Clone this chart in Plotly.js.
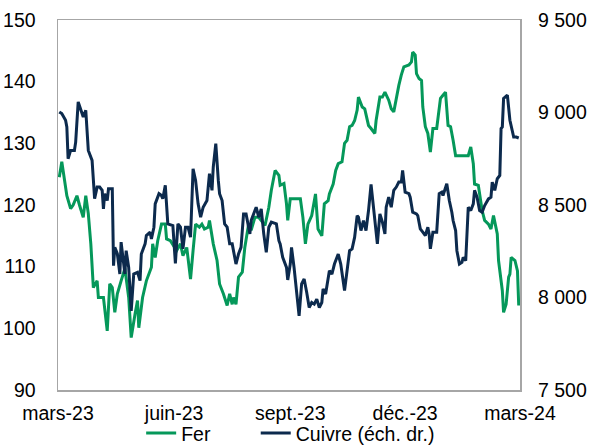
<!DOCTYPE html>
<html>
<head>
<meta charset="utf-8">
<script src="https://cdn.plot.ly/plotly-3.0.1.min.js"></script>
<style>
html,body{margin:0;padding:0;background:#fff;}
#chart{width:591px;height:445px;}
</style>
</head>
<body>
<div id="chart"></div>
<script>
// Fer (left axis)
const ferDates = [
"2023-03-02","2023-03-04","2023-03-08","2023-03-11","2023-03-13","2023-03-16","2023-03-18","2023-03-21","2023-03-23","2023-03-25",
"2023-03-27","2023-03-29","2023-04-01","2023-04-02","2023-04-06","2023-04-09","2023-04-11","2023-04-13","2023-04-15","2023-04-17",
"2023-04-20","2023-04-23","2023-04-26","2023-04-28","2023-05-01","2023-05-03","2023-05-04","2023-05-07","2023-05-10","2023-05-14",
"2023-05-15","2023-05-17","2023-05-19","2023-05-22","2023-05-25","2023-05-26","2023-05-29","2023-05-31","2023-06-03","2023-06-06",
"2023-06-08","2023-06-11","2023-06-14","2023-06-16","2023-06-18","2023-06-21","2023-06-23","2023-06-25","2023-06-28","2023-06-29",
"2023-07-02","2023-07-05","2023-07-07","2023-07-10","2023-07-13","2023-07-15","2023-07-17","2023-07-18","2023-07-20","2023-07-22",
"2023-07-25","2023-07-27","2023-07-30","2023-08-01","2023-08-04","2023-08-07","2023-08-09","2023-08-12","2023-08-15","2023-08-17",
"2023-08-20","2023-08-23","2023-08-24","2023-08-27","2023-08-29","2023-08-30","2023-09-01","2023-09-03","2023-09-06","2023-09-09",
"2023-09-11","2023-09-13","2023-09-15","2023-09-18","2023-09-21","2023-09-23","2023-09-26","2023-09-28","2023-10-01","2023-10-02",
"2023-10-05","2023-10-07","2023-10-09","2023-10-12","2023-10-14","2023-10-16","2023-10-18","2023-10-20","2023-10-22","2023-10-24",
"2023-10-25","2023-10-28","2023-10-30","2023-11-02","2023-11-04","2023-11-07","2023-11-08","2023-11-11","2023-11-13","2023-11-15",
"2023-11-18","2023-11-20","2023-11-22","2023-11-24","2023-11-26","2023-11-28","2023-11-30","2023-12-04","2023-12-06","2023-12-07",
"2023-12-09","2023-12-10","2023-12-12","2023-12-14","2023-12-15","2023-12-17","2023-12-19","2023-12-21","2023-12-23","2023-12-26",
"2023-12-29","2023-12-31","2024-01-02","2024-01-04","2024-01-06","2024-01-08","2024-01-10","2024-01-12","2024-01-16","2024-01-20",
"2024-01-22","2024-01-24","2024-01-25","2024-01-28","2024-01-31","2024-02-02","2024-02-05","2024-02-07","2024-02-09","2024-02-12",
"2024-02-13","2024-02-16","2024-02-17","2024-02-19","2024-02-21","2024-02-22","2024-02-23","2024-02-26","2024-02-28","2024-02-29"
];
const ferValues = [
124.5,127,121.5,119.4,120,121.5,120,118,121.5,118.6,
113.7,106.6,107.7,105,105,99.6,107.2,106.6,102.6,105.6,
107.7,109.7,105,98.5,102.3,104.5,100.1,105,107.7,109.9,
113.7,111.5,114.2,116.9,116.9,114.5,114.2,113.5,112.6,113.7,
111.8,113.1,108,112.6,116.9,116.4,116.9,116.1,116.4,117.5,
113.7,111,107.2,105.6,103.7,105.6,103.9,105,103.9,108.3,
109.1,113.1,116.9,115.9,118,118,117.5,116.7,119.6,122.4,
125.6,124.8,123.2,123.5,120.2,117.5,121,121,121,121,
118,113.7,116.9,118.3,121.8,116.1,115,120.2,120.7,121.8,
123.4,125.6,126.7,127,130,130.5,132.7,132.9,133.7,135.4,
137.5,135.9,135.6,132.9,132.4,131.6,133.7,137.5,137.5,138.3,
137,135.6,135.1,137.5,139.4,141.1,142.4,142.7,143.2,144.8,
144.3,141.3,140.5,140.2,135.9,132.7,131.6,128.6,132.4,132.4,
137.3,137.8,138.3,132.9,132.7,130.5,128,128,128,128,
129.4,126.7,123.4,123.2,119.1,117.5,116.9,116.1,118.3,115.3,
111,106.1,102.6,103.9,108.3,108.8,111.5,111,109.3,103.7
];

// Cuivre (right axis)
const cuivreDates = [
"2023-03-02","2023-03-04","2023-03-07","2023-03-08","2023-03-09","2023-03-11","2023-03-14","2023-03-15","2023-03-17","2023-03-19",
"2023-03-21","2023-03-23","2023-03-25","2023-03-28","2023-03-30","2023-04-01","2023-04-03","2023-04-05","2023-04-06","2023-04-07",
"2023-04-09","2023-04-10","2023-04-13","2023-04-14","2023-04-15","2023-04-17","2023-04-19","2023-04-20","2023-04-23","2023-04-24",
"2023-04-26","2023-04-28","2023-04-30","2023-05-03","2023-05-05","2023-05-06","2023-05-09","2023-05-10","2023-05-13","2023-05-14",
"2023-05-16","2023-05-17","2023-05-20","2023-05-22","2023-05-23","2023-05-25","2023-05-27","2023-05-31","2023-06-02","2023-06-04",
"2023-06-06","2023-06-08","2023-06-10","2023-06-12","2023-06-14","2023-06-16","2023-06-18","2023-06-20","2023-06-22","2023-06-24",
"2023-06-27","2023-06-29","2023-07-01","2023-07-02","2023-07-04","2023-07-06","2023-07-07","2023-07-09","2023-07-11","2023-07-13",
"2023-07-15","2023-07-17","2023-07-20","2023-07-22","2023-07-24","2023-07-26","2023-07-28","2023-07-31","2023-08-01","2023-08-04",
"2023-08-05","2023-08-07","2023-08-09","2023-08-11","2023-08-13","2023-08-15","2023-08-17","2023-08-21","2023-08-23","2023-08-24",
"2023-08-26","2023-08-29","2023-08-30","2023-09-01","2023-09-02","2023-09-04","2023-09-06","2023-09-08","2023-09-10","2023-09-12",
"2023-09-14","2023-09-16","2023-09-18","2023-09-20","2023-09-22","2023-09-24","2023-09-26","2023-09-27","2023-09-29","2023-10-01",
"2023-10-02","2023-10-04","2023-10-06","2023-10-09","2023-10-11","2023-10-14","2023-10-16","2023-10-18","2023-10-20","2023-10-22",
"2023-10-24","2023-10-25","2023-10-27","2023-10-29","2023-10-31","2023-11-02","2023-11-04","2023-11-06","2023-11-08","2023-11-09",
"2023-11-11","2023-11-13","2023-11-15","2023-11-16","2023-11-18","2023-11-20","2023-11-22","2023-11-24","2023-11-26","2023-11-28",
"2023-11-29","2023-12-01","2023-12-04","2023-12-05","2023-12-07","2023-12-10","2023-12-11","2023-12-13","2023-12-15","2023-12-17",
"2023-12-19","2023-12-20","2023-12-21","2023-12-23","2023-12-26","2023-12-28","2023-12-30","2023-12-31","2024-01-03","2024-01-05",
"2024-01-07","2024-01-08","2024-01-10","2024-01-11","2024-01-13","2024-01-15","2024-01-16","2024-01-18","2024-01-20","2024-01-22",
"2024-01-24","2024-01-25","2024-01-27","2024-01-29","2024-01-31","2024-02-02","2024-02-05","2024-02-07","2024-02-08","2024-02-10",
"2024-02-12","2024-02-14","2024-02-15","2024-02-16","2024-02-17","2024-02-20","2024-02-22","2024-02-23","2024-02-25","2024-02-27",
"2024-02-29"
];
const cuivreValues = [
9003,8994,8958,8922,8750,8795,8795,8840,9057,9012,
8976,9012,8795,8741,8534,8597,8597,8579,8479,8561,
8524,8588,8588,8172,8271,8237,8127,8299,8127,8253,
8163,7928,8127,8136,8091,8235,8290,8335,8353,8317,
8380,8506,8561,8551,8534,8606,8398,8389,8185,8398,
8380,8263,8380,8380,8326,8696,8633,8506,8434,8488,
8524,8669,8579,8705,8832,8633,8561,8524,8398,8380,
8290,8290,8181,8235,8271,8452,8452,8344,8416,8470,
8488,8434,8479,8344,8244,8380,8407,8398,8307,8290,
8217,8163,8095,8181,8271,8163,8037,7901,8073,8100,
8028,7946,7973,7964,7991,7946,7973,8046,8019,8100,
8145,8127,8181,8235,8181,8037,8145,8253,8263,8326,
8443,8434,8362,8416,8362,8470,8611,8470,8362,8290,
8452,8407,8344,8488,8542,8488,8579,8597,8624,8624,
8687,8569,8561,8542,8461,8452,8443,8371,8353,8335,
8380,8344,8263,8353,8353,8561,8569,8551,8615,8524,
8461,8416,8362,8253,8181,8190,8217,8199,8488,8470,
8506,8579,8542,8470,8461,8497,8533,8542,8624,8579,
8642,8660,8913,8922,9076,9094,8958,8931,8867,8867,
8862
];

const xTickVals = ["2023-03-01","2023-06-01","2023-09-01","2023-12-01","2024-03-01"];
const xTickText = ["mars-23","juin-23","sept.-23","déc.-23","mars-24"];
const yLeftTicks = [90,100,110,120,130,140,150];
const yRightTicks = [7500,8000,8500,9000,9500];
const yRightText = ["7 500","8 000","8 500","9 000","9 500"];

const FONT = "Liberation Sans, Arial, sans-serif";
const FS = 19.5;
const GREEN = "#05985a";
const NAVY = "#0c2a4d";
const BOX = "#a6a6a6";

const traces = [
  {x: ferDates, y: ferValues, name: "Fer", type: "scatter", mode: "lines",
   line: {color: GREEN, width: 3}, yaxis: "y", legend: "legend"},
  {x: cuivreDates, y: cuivreValues, name: "Cuivre (éch. dr.)", type: "scatter", mode: "lines",
   line: {color: NAVY, width: 3}, yaxis: "y2", legend: "legend2"}
];

const legendBase = {orientation: "h", xanchor: "left", yref: "container", y: 0.026, yanchor: "middle",
  font: {family: FONT, size: FS, color: "#000"}, bgcolor: "rgba(0,0,0,0)", borderwidth: 0};

const layout = {
  width: 591, height: 445,
  margin: {l: 58, r: 71, t: 20, b: 55},
  paper_bgcolor: "#fff", plot_bgcolor: "#fff",
  font: {family: FONT, size: FS, color: "#000"},
  showlegend: true,
  legend: Object.assign({}, legendBase, {x: 0.18}),
  legend2: Object.assign({}, legendBase, {x: 0.428}),
  xaxis: {type: "date", range: ["2023-03-01", "2024-03-01"], tickmode: "array",
          tickvals: xTickVals, ticktext: xTickText, ticks: "", showgrid: false, zeroline: false,
          showline: true, linecolor: BOX, linewidth: 1.5, mirror: true, automargin: false,
          ticklabelstandoff: 5, tickfont: {family: FONT, size: FS, color: "#000"}},
  yaxis: {range: [90, 150], tickmode: "array", tickvals: yLeftTicks, ticks: "", showgrid: false,
          zeroline: false, showline: true, linecolor: BOX, linewidth: 1.5, mirror: true, automargin: false,
          ticklabelstandoff: 17, tickfont: {family: FONT, size: FS, color: "#000"}},
  yaxis2: {range: [7500, 9500], overlaying: "y", side: "right", tickmode: "array",
           tickvals: yRightTicks, ticktext: yRightText, ticks: "", showgrid: false, zeroline: false,
           showline: false, automargin: false, ticklabelstandoff: 17,
           tickfont: {family: FONT, size: FS, color: "#000"}}
};

Plotly.newPlot("chart", traces, layout, {displayModeBar: false, staticPlot: true});
</script>
</body>
</html>
